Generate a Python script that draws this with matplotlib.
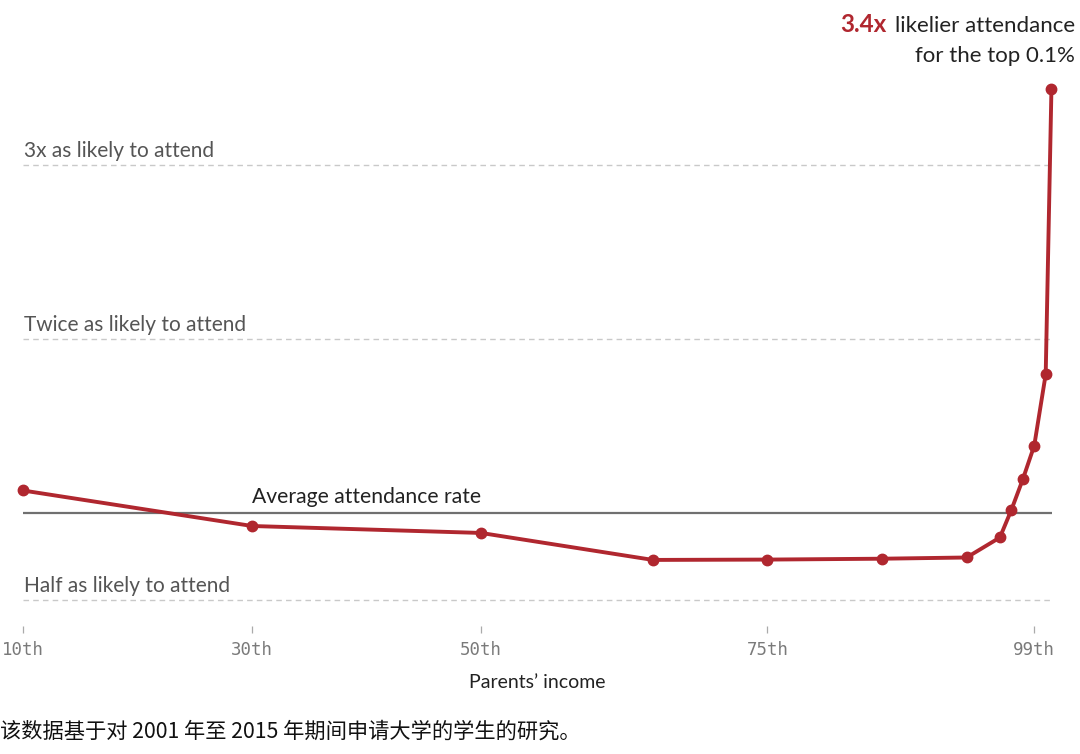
import matplotlib
matplotlib.use("Agg")
import matplotlib.pyplot as plt

# ---- data ----
percentile = [10, 30, 50, 65, 75, 85, 92.4, 95.3, 96.3, 97.3, 98.3, 99.3, 99.8]
relative_rate = [1.131, 0.927, 0.887, 0.732, 0.734, 0.739, 0.746, 0.861, 1.019, 1.195, 1.389, 1.799, 3.436]
tick_positions = [10, 30, 50, 75, 98.3]
tick_labels = ["10th", "30th", "50th", "75th", "99th"]
ref_levels = [0.5, 2.0, 3.0]
ref_labels = ["Half as likely to attend", "Twice as likely to attend", "3x as likely to attend"]
avg_level = 1.0
avg_label = "Average attendance rate"

RED = "#B0272F"
W, H = 1080, 754
fig = plt.figure(figsize=(W / 100, H / 100), dpi=100)
ax = fig.add_axes([23 / W, 1 - 626 / H, (1052 - 23) / W, (626 - 60) / H])
ax.set_xlim(10, 99.85)
ax.set_ylim(0.3523, 3.605)
for s in ax.spines.values():
    s.set_visible(False)
ax.set_yticks([])

main_font = "Lato"

# reference lines
for lvl, lab in zip(ref_levels, ref_labels):
    ax.axhline(lvl, color="#c9c9c9", lw=1.0, ls=(0, (4, 3)), zorder=1)
    ax.annotate(lab, xy=(10, lvl), xytext=(1, 8), textcoords="offset pixels",
                ha="left", va="baseline", fontsize=15, color="#555555", family=main_font)
ax.axhline(avg_level, color="#707070", lw=1.6, zorder=2)
ax.annotate(avg_label, xy=(30, avg_level), xytext=(0, 10), textcoords="offset pixels",
            ha="left", va="baseline", fontsize=15.2, color="#222222", family=main_font)

# data line
ax.plot(percentile, relative_rate, color=RED, lw=2.8, marker="o", markersize=7.5,
        zorder=5, clip_on=False, solid_joinstyle="round")

# x ticks
ax.set_xticks(tick_positions)
ax.set_xticklabels(tick_labels, family="DejaVu Sans Mono", fontsize=12.5, color="#7a7a7a")
ax.tick_params(axis="x", length=5, width=0.9, color="#aaaaaa", pad=6)

fig.text(537 / W, 1 - 683 / H, "Parents\u2019 income", ha="center", va="center",
         fontsize=14, color="#222222", family=main_font)

# top annotation
t1 = fig.text(1075 / W, 1 - 32 / H, "likelier attendance", ha="right", va="baseline",
              fontsize=16, color="#222222", family=main_font)
fig.text(1075 / W, 1 - 62 / H, "for the top 0.1%", ha="right", va="baseline",
         fontsize=16, color="#222222", family=main_font)
fig.canvas.draw()
bb = t1.get_window_extent()
fig.text((bb.x0 - 8) / W, 1 - 32 / H, "3.4x", ha="right", va="baseline",
         fontsize=17.5, color=RED, weight="bold", family=main_font)

# footer
fig.text(0.0, 1 - 732 / H, "该数据基于对 2001 年至 2015 年期间申请大学的学生的研究。",
         ha="left", va="center", fontsize=15.3, color="#111111",
         family=["Noto Sans CJK SC", "DejaVu Sans"])

fig.savefig("out.png", dpi=100)
